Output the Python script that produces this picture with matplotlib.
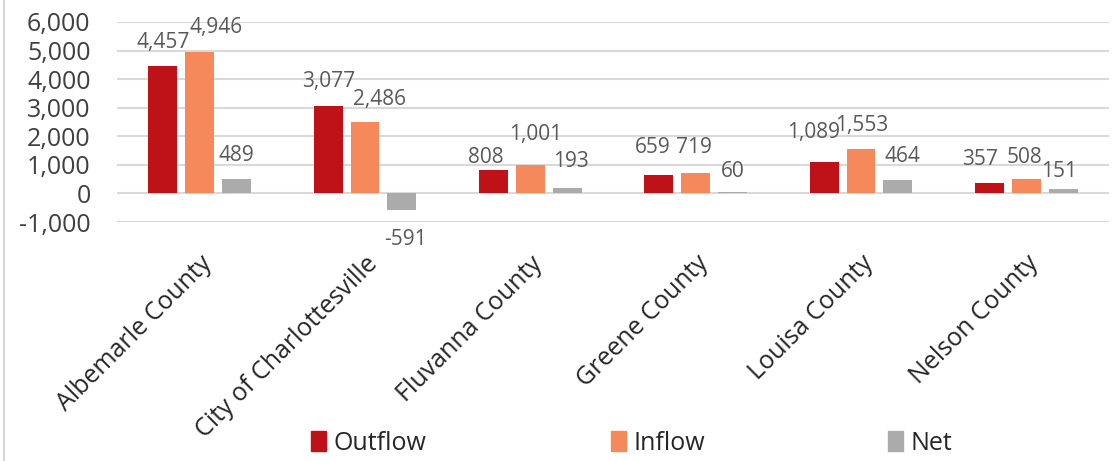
import matplotlib
matplotlib.use("Agg")
import matplotlib.pyplot as plt
from matplotlib.lines import Line2D
import numpy as np

categories = ["Albemarle County", "City of Charlottesville", "Fluvanna County",
              "Greene County", "Louisa County", "Nelson County"]
outflow = [4457, 3077, 808, 659, 1089, 357]
inflow = [4946, 2486, 1001, 719, 1553, 508]
net = [489, -591, 193, 60, 464, 151]
series_names = ["Outflow", "Inflow", "Net"]
yticks = [-1000, 0, 1000, 2000, 3000, 4000, 5000, 6000]

colors = ["#BE1218", "#F6895C", "#ABABAB"]

# label nudges in pixels (dx, dy above bar end) -- style only
nudges = {
    (0, 1): (16, 25), (1, 1): (14, 23), (1, 2): (4, 29),
    (2, 0): (-8, 13), (2, 1): (5, 30), (2, 2): (4, 26),
    (3, 0): (-6, 27), (3, 1): (-2, 25), (3, 2): (0, 20),
    (4, 0): (-11, 30), (4, 1): (1, 24), (4, 2): (5, 24),
    (5, 0): (-10, 24), (5, 1): (-2, 21), (5, 2): (-4, 18),
}

plt.rcParams['font.family'] = ['Open Sans', 'DejaVu Sans']

W, H = 1118, 461
fig = plt.figure(figsize=(W / 100, H / 100), dpi=100)
ax = fig.add_axes([117 / W, 1 - 222 / H, (1109 - 117) / W, (222 - 22) / H])

x = np.arange(len(categories))
bw = 0.175
step = 0.222
data = [outflow, inflow, net]
for i, (vals, c, name) in enumerate(zip(data, colors, series_names)):
    pos = x + (i - 1) * step
    ax.bar(pos, vals, width=bw, color=c, zorder=3, label=name)
    for j, v in enumerate(vals):
        dx, dy = nudges.get((j, i), (0, 24))
        if v < 0:
            off = (dx * 0.72, -dy * 0.72)
        else:
            off = (dx * 0.72, dy * 0.72)
        ax.annotate(f"{v:,}", xy=(pos[j], v), xytext=off, textcoords="offset points",
                    ha="center", va="center", fontsize=15, color="#595959", zorder=4)

ax.set_xlim(-0.5, len(categories) - 0.5)
ax.set_ylim(-1000, 6000)
ax.set_yticks(yticks)
ax.set_yticklabels([f"{t:,}" for t in yticks], fontsize=18, color="#404040")
ax.grid(axis="y", color="#D9D9D9", linewidth=1.5, zorder=0)
ax.tick_params(axis="both", length=0)
ax.tick_params(axis="y", pad=19)
for s in ax.spines.values():
    s.set_visible(False)
ax.set_xticks(x)
ax.set_xticklabels(categories, rotation=45, ha="right", rotation_mode="anchor",
                   fontsize=18, color="#262626")
ax.tick_params(axis="x", pad=21)

handles = [plt.Rectangle((0, 0), 1, 1, color=c) for c in colors]
fig.legend(handles, series_names, loc="center", bbox_to_anchor=(632 / W, 1 - 443 / H),
           ncol=3, frameon=False, fontsize=18, handlelength=0.6, handleheight=0.9,
           handletextpad=0.3, columnspacing=7.35, labelcolor="#262626")

fig.add_artist(Line2D([4 / W, 4 / W], [0, 1], color="#D0D0D0", linewidth=1.2))

fig.savefig("out.png", dpi=100)
